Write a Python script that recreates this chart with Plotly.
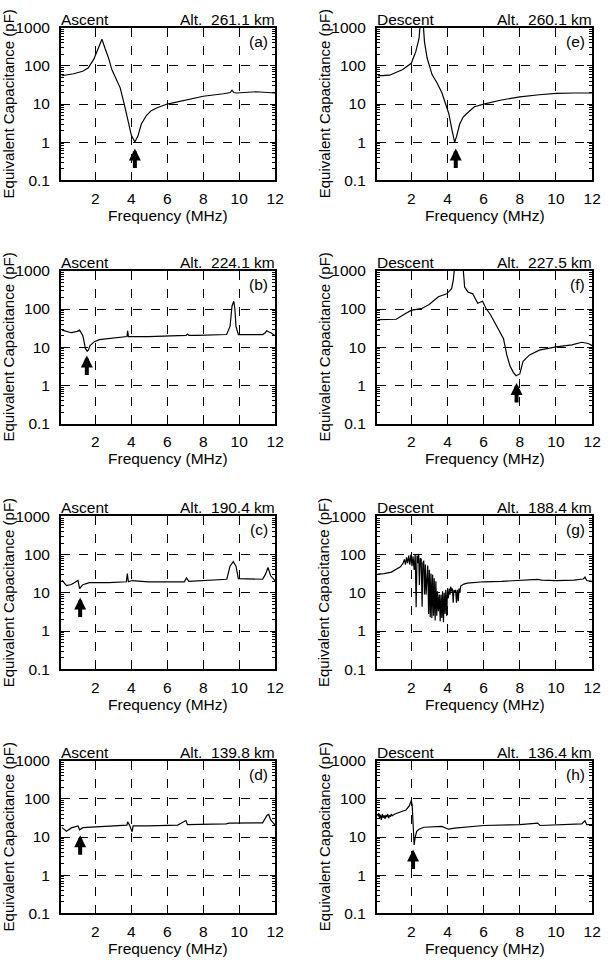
import numpy as np
import plotly.graph_objects as go

# ---------------- data ----------------
freq_a = [0.13, 0.8, 1.3, 1.6, 1.92, 2.19, 2.37, 2.55, 2.74, 2.92, 3.1, 3.38, 3.61, 3.83, 4.01, 4.2,
          4.38, 4.56, 4.84, 5.11, 5.47, 6.0, 6.93, 8.0, 9.12, 9.5, 9.6, 9.7, 9.85, 10.95, 12.0]
cap_a = [55, 62, 72, 88, 150, 330, 500, 280, 160, 80, 50, 27, 10, 3.7, 1.5, 1.02,
         1.5, 3.0, 5.0, 6.7, 8.1, 10, 12.6, 16, 18.6, 20, 23, 20, 19.5, 21, 19.5]

freq_b = [0.15, 0.67, 1.0, 1.13, 1.31, 1.45, 1.55, 1.62, 1.71, 1.95, 2.22, 2.76, 3.3, 3.76, 3.8, 3.84,
          4.95, 5.95, 7.05, 7.13, 7.2, 7.67, 8.5, 9.3, 9.49, 9.6, 9.7, 9.76, 9.82, 9.95, 10.5, 11.3,
          11.45, 11.53, 11.65, 11.76, 12.0]
cap_b = [28, 24, 26, 28, 20, 9.3, 7.8, 8.5, 11, 14, 15.8, 17, 18, 19, 27, 19,
         19, 20, 20.5, 22, 20.5, 20.5, 21, 21.5, 35, 120, 160, 100, 35, 21.5, 21.5, 21.5,
         24, 27, 25, 24, 20]

freq_c = [0.15, 0.4, 0.67, 1.04, 1.13, 1.31, 1.67, 2.76, 3.73, 3.78, 3.84, 4.04, 4.95, 6.95, 7.07, 7.2,
          9.31, 9.49, 9.67, 9.82, 9.95, 11.3, 11.45, 11.6, 11.75, 12.0]
cap_c = [21.5, 15.5, 16.5, 21, 13, 16.4, 18.6, 18.6, 19.5, 32, 19.5, 21, 19.5, 19.5, 24.5, 20,
         22.7, 50, 66, 50, 23.7, 22.7, 30, 46, 28, 20.5]

freq_d = [0.15, 0.4, 0.67, 1.04, 1.13, 1.31, 2.04, 2.95, 3.76, 3.8, 3.9, 4.05, 4.1, 4.95, 6.58, 7.04,
          7.12, 9.27, 9.45, 11.3, 11.45, 11.55, 11.64, 11.75, 12.0]
cap_d = [17.6, 14.2, 17.3, 19.5, 15.5, 17.6, 18.4, 19.5, 20.5, 25, 20.5, 13.8, 19.5, 19.5, 20.5, 27,
         21, 22, 23, 23.5, 30, 37, 39, 28, 20.5]

freq_e = [0.15, 0.8, 1.53, 2.0, 2.25, 2.43, 2.5, 2.6, 2.66, 2.73, 2.88, 3.15, 3.42, 3.69, 3.9, 4.08,
          4.26, 4.4, 4.5, 4.68, 4.86, 5.04, 5.49, 6.0, 6.92, 8.0, 9.08, 10.0, 11.0, 12.0]
cap_e = [55, 57, 80, 117, 235, 520, 1300, 1300, 1300, 425, 158, 59, 36, 20, 9.2, 5.5,
         2.0, 1.0, 1.4, 3.0, 4.5, 5.5, 8.5, 10, 12.6, 15.5, 17.5, 19, 19.5, 19.5]

freq_f = [0.15, 0.63, 1.17, 1.71, 2.0, 2.6, 2.97, 3.5, 3.96, 4.23, 4.32, 4.4, 4.6, 4.86, 4.95, 5.13,
          5.4, 5.67, 5.94, 6.12, 6.38, 6.65, 6.92, 7.1, 7.28, 7.46, 7.64, 7.79, 8.0, 8.18, 8.54, 9.08,
          10.0, 10.88, 11.42, 11.78, 12.0]
cap_f = [53, 54, 54, 78, 92, 105, 130, 210, 250, 340, 560, 1300, 1300, 1300, 375, 280,
         250, 141, 160, 106, 71, 40, 24.5, 16.6, 6.3, 3.2, 2.2, 1.8, 2.0, 4.3, 6.3, 8.4,
         10.2, 11.5, 13.5, 12.5, 11]

freq_g = [0.15, 0.5, 0.9, 1.2, 1.4, 1.55, 1.62, 1.68, 1.74, 1.8, 1.86, 1.92, 1.98, 2.04, 2.1, 2.16,
          2.22, 2.27, 2.32, 2.36, 2.41, 2.45, 2.5, 2.55, 2.6, 2.64, 2.69, 2.73, 2.78, 2.82, 2.87, 2.91,
          2.96, 3.0, 3.05, 3.09, 3.14, 3.18, 3.23, 3.27, 3.32, 3.36, 3.41, 3.45, 3.5, 3.55, 3.6, 3.64,
          3.69, 3.73, 3.78, 3.82, 3.87, 3.91, 3.96, 4.0, 4.05, 4.09, 4.14, 4.18, 4.23, 4.27, 4.32, 4.36,
          4.41, 4.45, 4.5, 4.55, 4.6, 4.64, 4.69, 4.73, 4.82, 4.91, 5.09, 5.45, 6.0, 7.0, 8.0, 9.0,
          9.2, 10.0, 11.0, 11.5, 11.6, 11.7, 12.0]
cap_g = [31, 32, 35, 42, 48, 60, 75, 55, 85, 60, 95, 55, 100, 50, 90, 40,
         100, 4.2, 95, 60, 105, 16, 80, 77, 4.3, 60, 70, 9, 55, 8.9, 50, 52,
         2.8, 40, 2.3, 32, 2.2, 30, 2.5, 24, 1.9, 20, 2.5, 11, 3.3, 9, 1.8, 8.9,
         2.2, 11, 1.7, 10, 2.8, 12, 2.5, 11, 7.2, 13, 9, 14.5, 11, 13, 5.5, 12,
         10, 12, 5.5, 12, 6, 13, 10, 15, 16, 17, 18, 18.5, 19.5, 20, 21, 22.5,
         21.5, 21, 21.5, 23, 26, 21, 20]

freq_h = [0.15, 0.2, 0.25, 0.3, 0.35, 0.4, 0.45, 0.5, 0.55, 0.6, 0.65, 0.7, 0.75, 0.8, 0.85, 0.9,
          0.95, 1.0, 1.1, 1.2, 1.35, 1.5, 1.71, 1.89, 2.0, 2.05, 2.08, 2.12, 2.16, 2.22, 2.3, 2.43,
          2.7, 3.69, 4.05, 4.41, 6.0, 8.0, 8.99, 9.12, 10.0, 11.42, 11.6, 11.7, 12.0]
cap_h = [35, 42, 30, 38, 28, 40, 32, 37, 30, 38, 33, 40, 31, 37, 34, 40,
         36, 38, 40, 42, 44, 46, 51, 65, 90, 70, 30, 10, 6.2, 10, 14, 16,
         18, 19, 16, 17, 20, 21, 23, 20, 21, 22, 26.5, 21, 21]

panel_labels = ["(a)", "(b)", "(c)", "(d)", "(e)", "(f)", "(g)", "(h)"]
phases = ["Ascent", "Ascent", "Ascent", "Ascent", "Descent", "Descent", "Descent", "Descent"]
altitudes = ["Alt.  261.1 km", "Alt.  224.1 km", "Alt.  190.4 km", "Alt.  139.8 km",
             "Alt.  260.1 km", "Alt.  227.5 km", "Alt.  188.4 km", "Alt.  136.4 km"]
arrow_freq = [4.2, 1.53, 1.16, 1.16, 4.46, 7.82, None, 2.1]
arrow_cap = [0.69, 6.1, 7.6, 11.2, 0.69, 1.15, None, 4.7]

freqs = [freq_a, freq_b, freq_c, freq_d, freq_e, freq_f, freq_g, freq_h]
caps = [cap_a, cap_b, cap_c, cap_d, cap_e, cap_f, cap_g, cap_h]

x_ticks = [2, 4, 6, 8, 10, 12]
y_ticks = [0.1, 1, 10, 100, 1000]
y_ticktext = ["0.1", "1", "10", "100", "1000"]

# ---------------- layout geometry ----------------
W, H = 613, 972
col_x = [(62.0, 279.3), (382.5, 601.0)]
row_top = [19.0, 266.5, 516.5, 765.0]
plot_h = 155.5
FONT = "Liberation Sans, Arial, Helvetica, sans-serif"

minor_vals = [m * 10.0 ** e for e in range(-1, 3) for m in range(2, 10)]

fig = go.Figure()
layout = dict(width=W, height=H, margin=dict(l=0, r=0, t=0, b=0),
              paper_bgcolor="white", plot_bgcolor="white",
              font=dict(family=FONT, size=15, color="black"), showlegend=False)
annotations = []

for i in range(8):
    n = i + 1
    col = i // 4
    row = i % 4
    x0, x1 = col_x[col]
    top = row_top[row]
    bot = top + plot_h
    xd = [x0 / W, x1 / W]
    yd = [1 - bot / H, 1 - top / H]
    sfx = "" if n == 1 else str(n)

    fig.add_trace(go.Scatter(x=freqs[i], y=caps[i], mode="lines",
                             line=dict(color="black", width=1.2),
                             xaxis="x" + sfx, yaxis="y" + sfx, hoverinfo="skip"))

    layout["xaxis" + sfx] = dict(
        domain=xd, anchor="y" + sfx, range=[0.1, 12], tickvals=x_ticks,
        showgrid=True, gridcolor="black", griddash="dash", gridwidth=1,
        showline=True, linecolor="black", linewidth=2, mirror="ticks",
        ticks="inside", ticklen=4, tickcolor="black", zeroline=False,
        tickfont=dict(size=15.5), ticklabelstandoff=3, fixedrange=True)
    layout["yaxis" + sfx] = dict(
        domain=yd, anchor="x" + sfx, type="log", range=[-1, 3],
        tickvals=y_ticks, ticktext=y_ticktext,
        showgrid=True, gridcolor="black", griddash="dash", gridwidth=1,
        showline=True, linecolor="black", linewidth=2, mirror="ticks",
        ticks="inside", ticklen=5, tickcolor="black", zeroline=False,
        tickfont=dict(size=15.5), ticklabelstandoff=6,
        minor=dict(tickvals=minor_vals, ticks="inside", ticklen=3,
                   tickcolor="black", showgrid=False),
        fixedrange=True)

    # texts
    annotations.append(dict(text=phases[i], x=xd[0], y=yd[1], xref="paper", yref="paper",
                            xanchor="left", yanchor="bottom", showarrow=False,
                            xshift=-2, yshift=-2, font=dict(size=15.5)))
    annotations.append(dict(text=altitudes[i], x=xd[1], y=yd[1], xref="paper", yref="paper",
                            xanchor="right", yanchor="bottom", showarrow=False,
                            xshift=2, yshift=-2, font=dict(size=15.5)))
    annotations.append(dict(text=panel_labels[i], x=xd[1], y=yd[1], xref="paper", yref="paper",
                            xanchor="right", yanchor="top", showarrow=False,
                            xshift=-5, yshift=-3, font=dict(size=15.5)))
    annotations.append(dict(text="Frequency (MHz)", x=(xd[0] + xd[1]) / 2,
                            y=1 - (bot + 36) / H, xref="paper", yref="paper",
                            xanchor="center", yanchor="middle", showarrow=False,
                            font=dict(size=15.5)))
    annotations.append(dict(text="Equivalent Capacitance (pF)", x=(x0 - 53.5) / W,
                            y=(yd[0] + yd[1]) / 2, xref="paper", yref="paper",
                            xanchor="center", yanchor="middle", textangle=-90,
                            showarrow=False, font=dict(size=15)))
    if arrow_freq[i] is not None:
        annotations.append(dict(text="", x=arrow_freq[i], y=float(np.log10(arrow_cap[i])),
                                xref="x" + sfx, yref="y" + sfx, ax=0, ay=21,
                                showarrow=True, arrowhead=2, arrowwidth=4,
                                arrowsize=0.6, arrowcolor="black", standoff=0))

layout["annotations"] = annotations
fig.update_layout(**layout)
fig.write_html("out.html", config={"displayModeBar": False},
               post_script="document.body.style.margin='0px';document.body.style.overflow='hidden';")
